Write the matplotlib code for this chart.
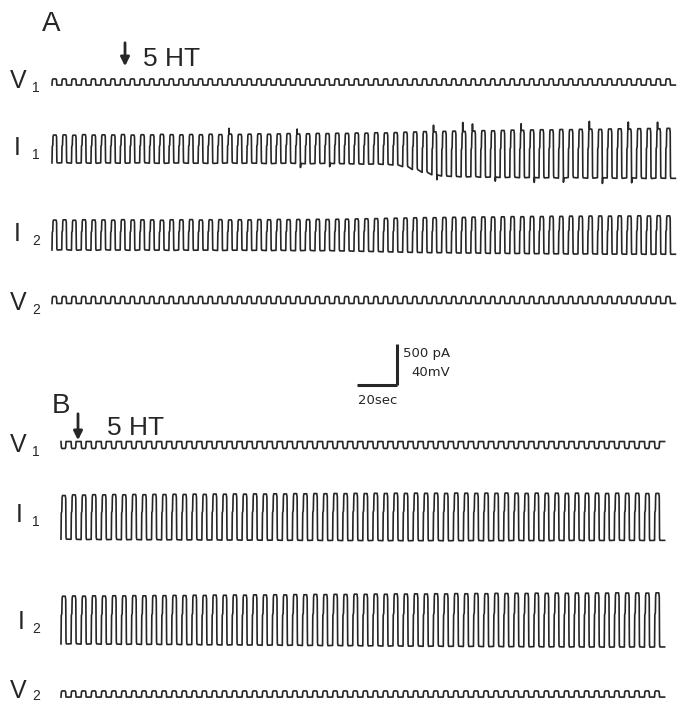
import matplotlib.pyplot as plt

plt.rcParams['font.family'] = ['Liberation Sans', 'DejaVu Sans']

# ---- data (read from the recordings) ----
# cycle period of the oscillation, seconds
period_A = 4.87
period_B = 5.03

# panel A, I1: peak / trough of every cycle (pA, relative to holding level)
i1_top_A = [170, 172, 168, 175, 170, 173, 171, 176, 170, 174,
            172, 178, 175, 173, 177, 174, 180, 176, 182, 178,
            181, 185, 180, 184, 188, 183, 186, 190, 188, 192,
            190, 195, 193, 198, 196, 200, 205, 208, 212, 210,
            215, 218, 214, 220, 224, 222, 226, 230, 228, 232,
            235, 233, 238, 236, 240, 242, 239, 244, 246, 243,
            248, 250, 247, 252]
i1_bot_A = [-170, -168, -172, -170, -174, -169, -171, -173, -170, -168,
            -172, -175, -171, -170, -174, -172, -176, -173, -170, -175,
            -172, -174, -178, -175, -173, -176, -180, -177, -175, -178,
            -180, -182, -185, -183, -188, -195, -215, -250, -285, -315,
            -330, -335, -340, -338, -345, -342, -348, -345, -350, -347,
            -352, -350, -355, -348, -352, -356, -350, -354, -358, -352,
            -356, -360, -355, -358]
# fast transients riding on I1 in panel A (cycle index, size in pA)
spike_cycles_A = [18, 25, 39, 42, 43, 48, 55, 59, 62]
spike_size_A = [70, 60, 80, 110, 85, 80, 95, 85, 80]
dip_cycles_A = [25, 28, 39, 45, 49, 52, 56, 59]
dip_size_A = [50, 40, 60, 50, 60, 50, 70, 60]

# panel A, I2
i2_top_A = [182, 185, 180, 186, 183, 184, 181, 187, 183, 185,
            184, 180, 186, 185, 188, 183, 186, 187, 184, 186,
            185, 188, 186, 190, 187, 189, 188, 191, 189, 192,
            193, 196, 198, 200, 203, 205, 207, 210, 212, 211,
            214, 216, 215, 218, 220, 219, 222, 224, 223, 226,
            225, 228, 227, 230, 229, 231, 232, 230, 233, 231,
            234, 232, 235, 233]
i2_bot_A = [-183, -180, -185, -182, -186, -181, -184, -183, -187, -182,
            -185, -184, -188, -183, -186, -185, -184, -189, -186, -185,
            -188, -186, -190, -187, -189, -191, -188, -192, -190, -193,
            -195, -197, -200, -202, -205, -207, -210, -212, -214, -216,
            -215, -218, -220, -219, -222, -224, -223, -226, -225, -228,
            -227, -230, -229, -232, -231, -230, -233, -234, -232, -235,
            -233, -236, -234, -235]

# panel B, I1
i1_top_B = [262, 270, 268, 272, 270, 274, 271, 275, 272, 276,
            274, 277, 275, 279, 276, 280, 278, 281, 279, 282,
            280, 283, 281, 285, 283, 286, 284, 287, 285, 288,
            286, 289, 287, 290, 288, 291, 289, 290, 288, 292,
            290, 288, 291, 289, 292, 290, 288, 291, 289, 290,
            288, 291, 289, 290, 287, 290, 288, 289, 286, 288]
i1_bot_B = [-270, -272, -275, -273, -276, -274, -277, -275, -278, -276,
            -279, -277, -280, -278, -281, -279, -282, -280, -283, -281,
            -284, -282, -285, -283, -286, -284, -287, -285, -288, -286,
            -288, -286, -289, -287, -290, -288, -289, -287, -290, -288,
            -289, -287, -290, -288, -289, -286, -288, -287, -289, -286,
            -287, -285, -288, -286, -287, -284, -286, -285, -287, -285]

# panel B, I2
i2_top_B = [290, 293, 291, 295, 292, 296, 294, 297, 295, 298,
            297, 300, 298, 302, 300, 304, 302, 305, 303, 307,
            305, 308, 306, 310, 308, 312, 310, 313, 311, 315,
            313, 316, 314, 318, 316, 319, 317, 320, 318, 322,
            320, 323, 321, 325, 323, 326, 324, 327, 325, 328,
            326, 329, 327, 330, 328, 331, 329, 330, 328, 331]
i2_bot_B = [-292, -290, -294, -291, -295, -293, -297, -294, -298, -296,
            -299, -297, -301, -299, -303, -301, -305, -302, -306, -304,
            -308, -305, -309, -307, -311, -309, -313, -310, -314, -312,
            -316, -314, -318, -315, -319, -317, -321, -318, -322, -320,
            -323, -321, -325, -322, -326, -324, -327, -325, -328, -326,
            -329, -327, -330, -328, -331, -329, -330, -328, -331, -329]

# voltage traces: half amplitude of the square command (mV)
v1_half_A = 3.0
v2_half_A = 3.4
v1_half_B = 3.4
v2_half_B = 3.0

# drug application, seconds after trace start
t_5ht_A = 36.5
t_5ht_B = 8.5

# scale bars
bar_pA = 500
bar_mV = 40
bar_sec = 20

# ---- layout (figure pixels) ----
SEC_PX = 0.5     # seconds per pixel
PA_PX = 12.2     # pA per pixel
MV_PX = 0.976    # mV per pixel
X0_A = 52
X0_B = 61
INK = '#262626'

I_SHAPE = [(0.0, 0.0), (0.03, 0.6), (0.08, 0.63), (0.11, 0.95), (0.15, 1.0),
           (0.42, 1.0), (0.47, 0.93), (0.50, 0.04), (0.54, 0.0)]
V_SHAPE_N = [(0.0, 0.0), (0.04, 0.85), (0.10, 1.0), (0.40, 1.0), (0.46, 0.85), (0.50, 0.0)]
V_SHAPE_U = [(0.0, 1.0), (0.04, 0.15), (0.10, 0.0), (0.40, 0.0), (0.46, 0.15), (0.50, 1.0)]


def current_trace(tops, bots, period, spikes=(), dips=()):
    spk = dict(spikes)
    dip = dict(dips)
    t, v = [], []
    for k, (hi, lo) in enumerate(zip(tops, bots)):
        pts = [(f, lo + lev * (hi - lo)) for f, lev in I_SHAPE]
        if k in spk:
            pts += [(0.16, hi), (0.17, hi + spk[k]), (0.18, hi)]
        if k in dip:
            pts += [(0.51, lo - dip[k]), (0.53, lo - dip[k] * 0.6)]
        pts.sort()
        for f, val in pts:
            t.append((k + f) * period)
            v.append(val)
    t.append(len(tops) * period)
    v.append(bots[-1])
    return t, v


def voltage_trace(half, n, period, shape):
    t, v = [], []
    for k in range(n):
        for f, lev in shape:
            t.append((k + f) * period)
            v.append(-half + 2 * half * lev)
    t.append(n * period)
    v.append(v[0])
    return t, v


def draw(ax, t, v, x0, mid, unit_px):
    xs = [x0 + ti / SEC_PX for ti in t]
    ys = [mid - vi / unit_px for vi in v]
    ax.plot(xs, ys, color=INK, lw=1.2, solid_joinstyle='round')


def label(ax, x, y, main, sub, drop=7):
    ax.text(x, y, main, fontsize=18, color=INK, ha='left', va='center')
    ax.text(32, y + drop, sub, fontsize=10, color=INK, ha='left', va='center')


fig = plt.figure(figsize=(6.84, 7.06), dpi=100)
ax = fig.add_axes([0, 0, 1, 1])
ax.set_xlim(0, 684)
ax.set_ylim(706, 0)
ax.axis('off')

nA = len(i1_top_A)
nB = len(i1_top_B)

# panel A
draw(ax, *voltage_trace(v1_half_A, nA, period_A, V_SHAPE_N), X0_A, 82, MV_PX)
draw(ax, *current_trace(i1_top_A, i1_bot_A, period_A,
                        zip(spike_cycles_A, spike_size_A),
                        zip(dip_cycles_A, dip_size_A)), X0_A, 149, PA_PX)
draw(ax, *current_trace(i2_top_A, i2_bot_A, period_A), X0_A, 235, PA_PX)
draw(ax, *voltage_trace(v2_half_A, nA, period_A, V_SHAPE_N), X0_A, 300, MV_PX)

label(ax, 10, 81, 'V', '1')
label(ax, 14, 148, 'I', '1')
label(ax, 14, 234, 'I', '2')
label(ax, 10, 303, 'V', '2')

ax.text(42, 24, 'A', fontsize=20, color=INK, ha='left', va='center')
xa = X0_A + t_5ht_A / SEC_PX
ax.annotate('', xy=(xa, 69), xytext=(xa, 40),
            arrowprops=dict(arrowstyle='-|>', color=INK, lw=2.0, mutation_scale=13))
ax.text(143, 59, '5 HT', fontsize=19, color=INK, ha='left', va='center')

# scale bar
xb, yb = 397, 385
ax.plot([xb, xb], [yb, yb - bar_pA / PA_PX], color=INK, lw=2.2, solid_capstyle='butt')
ax.plot([xb - bar_sec / SEC_PX, xb], [yb, yb], color=INK, lw=2.2, solid_capstyle='butt')
ax.text(403, 353, '500 pA', fontsize=9.5, family='DejaVu Sans', color=INK, ha='left', va='center')
ax.text(411, 373, '40mV', fontsize=9.5, family='DejaVu Sans', color=INK, ha='left', va='center')
ax.text(358, 400, '20sec', fontsize=9.5, family='DejaVu Sans', color=INK, ha='left', va='center')

# panel B
draw(ax, *voltage_trace(v1_half_B, nB, period_B, V_SHAPE_U), X0_B, 445, MV_PX)
draw(ax, *current_trace(i1_top_B, i1_bot_B, period_B), X0_B, 517, PA_PX)
draw(ax, *current_trace(i2_top_B, i2_bot_B, period_B), X0_B, 620, PA_PX)
draw(ax, *voltage_trace(v2_half_B, nB, period_B, V_SHAPE_N), X0_B, 694, MV_PX)

label(ax, 10, 445, 'V', '1')
label(ax, 16, 515, 'I', '1')
label(ax, 18, 622, 'I', '2')
label(ax, 10, 691, 'V', '2', drop=5)

ax.text(52, 406, 'B', fontsize=20, color=INK, ha='left', va='center')
xb5 = X0_B + t_5ht_B / SEC_PX
ax.annotate('', xy=(xb5, 443), xytext=(xb5, 411),
            arrowprops=dict(arrowstyle='-|>', color=INK, lw=2.0, mutation_scale=13))
ax.text(107, 428, '5 HT', fontsize=19, color=INK, ha='left', va='center')

fig.savefig('out.png', dpi=100, facecolor='white')
